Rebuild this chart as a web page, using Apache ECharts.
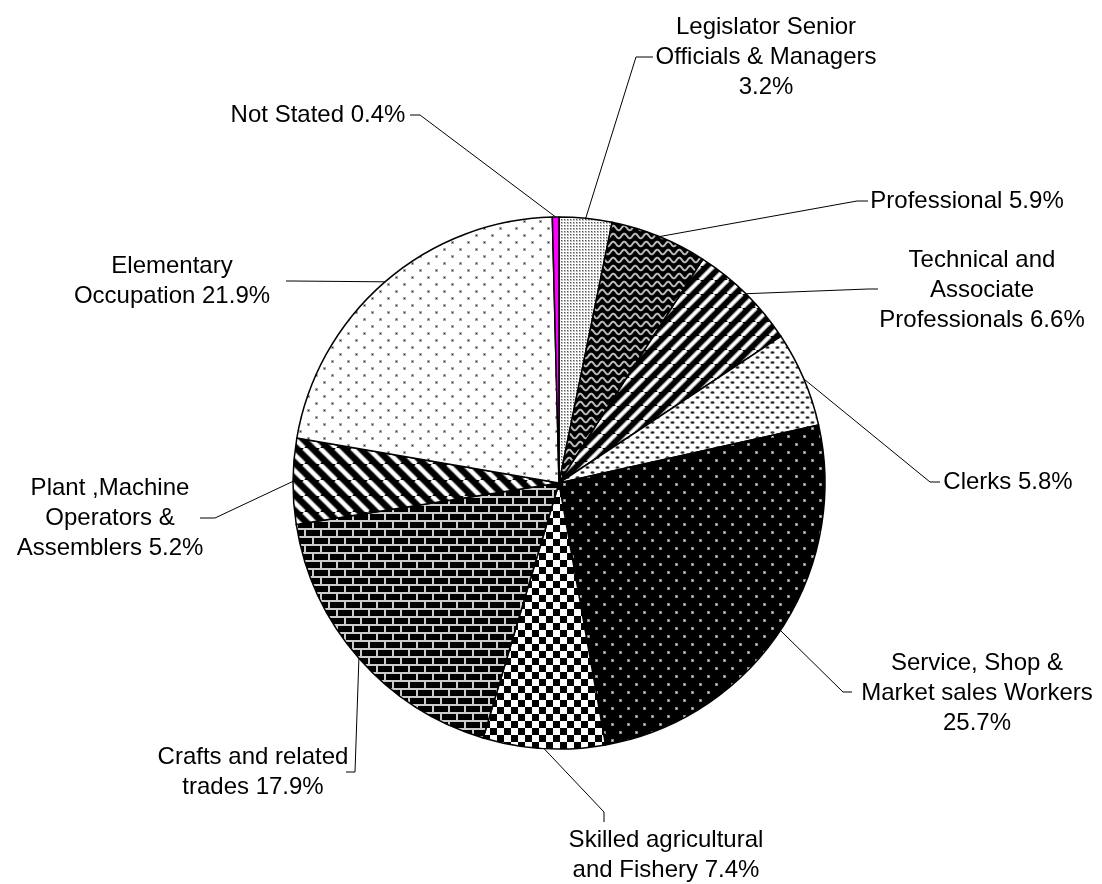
<!DOCTYPE html>
<html>
<head>
<meta charset="utf-8">
<script src="https://cdn.jsdelivr.net/npm/echarts@6/dist/echarts.min.js"></script>
<style>
html,body{margin:0;padding:0;background:#fff;}
#chart{width:1102px;height:884px;}
</style>
</head>
<body>
<div id="chart"></div>
<script>
// ---- data ----
const categories = [
  "Legislator Senior Officials & Managers",
  "Professional",
  "Technical and Associate Professionals",
  "Clerks",
  "Service, Shop & Market sales Workers",
  "Skilled agricultural and Fishery",
  "Crafts and related trades",
  "Plant ,Machine Operators & Assemblers",
  "Elementary Occupation",
  "Not Stated"
];
const values = [3.2, 5.9, 6.6, 5.8, 25.7, 7.4, 17.9, 5.2, 21.9, 0.4];
const labelTexts = [
  "Legislator Senior\nOfficials & Managers\n",
  "Professional ",
  "Technical and\nAssociate\nProfessionals ",
  "Clerks ",
  "Service, Shop &\nMarket sales Workers\n",
  "Skilled agricultural\nand Fishery ",
  "Crafts and related\ntrades ",
  "Plant ,Machine\nOperators &\nAssemblers ",
  "Elementary\nOccupation ",
  "Not Stated "
];

// ---- patterns ----
function mk(w, h, draw) {
  const c = document.createElement('canvas');
  c.width = w; c.height = h;
  const g = c.getContext('2d');
  draw(g, w, h);
  return { image: c, repeat: 'repeat' };
}
const patLegis = mk(3, 3, (g) => {
  g.fillStyle = '#fff'; g.fillRect(0, 0, 3, 3);
  g.fillStyle = '#bbb'; g.fillRect(0, 0, 2, 2);
  g.fillStyle = '#555'; g.fillRect(0, 0, 1, 1);
});
const patWave = mk(11, 8, (g) => {
  g.fillStyle = '#000'; g.fillRect(0, 0, 11, 8);
  g.strokeStyle = '#bbb'; g.lineWidth = 2;
  g.beginPath();
  for (let x = -1; x <= 12; x += 0.5) {
    const y = 4 + 2.3 * Math.sin(2 * Math.PI * x / 11);
    if (x === -1) g.moveTo(x, y); else g.lineTo(x, y);
  }
  g.stroke();
});
function stripes(N, dir, wg, ww) {
  return mk(N, N, (g) => {
    g.fillStyle = '#000'; g.fillRect(0, 0, N, N);
    const pass = (col, lw) => {
      g.strokeStyle = col; g.lineWidth = lw;
      for (let k = -1; k <= 1; k++) {
        g.beginPath();
        if (dir > 0) { g.moveTo(k * N, N); g.lineTo(k * N + N, 0); }
        else { g.moveTo(k * N, 0); g.lineTo(k * N + N, N); }
        g.stroke();
      }
    };
    pass('#888', wg);
    pass('#fff', ww);
  });
}
const patTech = stripes(14, 1, 5, 3);
const patPlant = stripes(16, -1, 5.5, 3.5);
const patClerks = mk(10, 10, (g) => {
  g.fillStyle = '#fff'; g.fillRect(0, 0, 10, 10);
  const ov = (x, y) => {
    g.fillStyle = '#999';
    g.beginPath(); g.ellipse(x, y, 2.4, 1.5, 0, 0, Math.PI * 2); g.fill();
    g.fillStyle = '#222';
    g.beginPath(); g.ellipse(x, y, 1.6, 0.9, 0, 0, Math.PI * 2); g.fill();
  };
  ov(2.5, 2.5); ov(7.5, 7.5);
});
const patService = mk(16, 16, (g) => {
  g.fillStyle = '#000'; g.fillRect(0, 0, 16, 16);
  g.fillStyle = '#888'; g.fillRect(3, 3, 3, 3); g.fillRect(11, 11, 3, 3);
  g.fillStyle = '#eee'; g.fillRect(4, 4, 1, 1); g.fillRect(12, 12, 1, 1);
});
const patChecker = mk(14, 14, (g) => {
  g.fillStyle = '#fff'; g.fillRect(0, 0, 14, 14);
  g.fillStyle = '#000'; g.fillRect(0, 0, 7, 7); g.fillRect(7, 7, 7, 7);
});
const patBrick = mk(16, 16, (g) => {
  g.fillStyle = '#000'; g.fillRect(0, 0, 16, 16);
  g.fillStyle = '#ccc';
  g.fillRect(0, 0, 16, 2); g.fillRect(0, 8, 16, 2);
  g.fillRect(0, 0, 2, 8); g.fillRect(8, 8, 2, 8);
});
const patElem = mk(16, 14, (g) => {
  g.fillStyle = '#fff'; g.fillRect(0, 0, 16, 14);
  g.fillStyle = '#aaa'; g.fillRect(3, 3, 3, 3); g.fillRect(11, 10, 3, 3);
  g.fillStyle = '#333'; g.fillRect(4, 4, 1, 1); g.fillRect(12, 11, 1, 1);
});
const fills = [patLegis, patWave, patTech, patClerks, patService, patChecker, patBrick, patPlant, patElem, '#ff00ff'];

// ---- layout of labels ----
const CX = 559, CY = 483, R = 266;
const anchors = [
  { x: 766, y: 57, bend: [636, 57], end: [653, 57] },
  { x: 967, y: 201, bend: [857, 201], end: [868, 201] },
  { x: 982, y: 290, bend: [868, 289], end: [878, 289] },
  { x: 1008, y: 482, bend: [930, 482], end: [940, 482] },
  { x: 977, y: 693, bend: [843, 692], end: [852, 692] },
  { x: 666, y: 855, bend: [604, 812], end: [604, 822] },
  { x: 253, y: 772, bend: [355, 772], end: [346, 772] },
  { x: 110, y: 518, bend: [215, 518], end: [200, 518] },
  { x: 172, y: 281, bend: [292, 281], end: [286, 281] },
  { x: 318, y: 115, bend: [420, 115], end: [410, 115] }
];
const total = values.reduce((a, b) => a + b, 0);
function edgePoint(i) {
  let before = 0;
  for (let k = 0; k < i; k++) before += values[k];
  const ang = (before + values[i] / 2) / total * Math.PI * 2;
  return [CX + R * Math.sin(ang), CY - R * Math.cos(ang)];
}

const chart = echarts.init(document.getElementById('chart'), null, { renderer: 'canvas' });
chart.setOption({
  backgroundColor: '#fff',
  animation: false,
  series: [{
    type: 'pie',
    center: [CX, CY],
    radius: R,
    startAngle: 90,
    clockwise: true,
    avoidLabelOverlap: false,
    silent: true,
    itemStyle: { borderColor: '#000', borderWidth: 1.5 },
    label: {
      show: true,
      position: 'outside',
      color: '#000',
      fontFamily: 'Liberation Sans, Arial, sans-serif',
      fontSize: 24,
      lineHeight: 30,
      align: 'center',
      formatter: (p) => labelTexts[p.dataIndex] + values[p.dataIndex].toFixed(1) + '%'
    },
    labelLine: { show: true, smooth: false, length: 10, length2: 10, lineStyle: { color: '#000', width: 1 } },
    labelLayout: function (params) {
      const i = params.dataIndex;
      const a = anchors[i];
      const p0 = edgePoint(i);
      return {
        x: a.x, y: a.y, align: 'center', verticalAlign: 'middle',
        hideOverlap: false,
        labelLinePoints: [p0, a.bend, a.end]
      };
    },
    data: categories.map((c, i) => ({ name: c, value: values[i], itemStyle: { color: fills[i] } }))
  }]
});
</script>
</body>
</html>
